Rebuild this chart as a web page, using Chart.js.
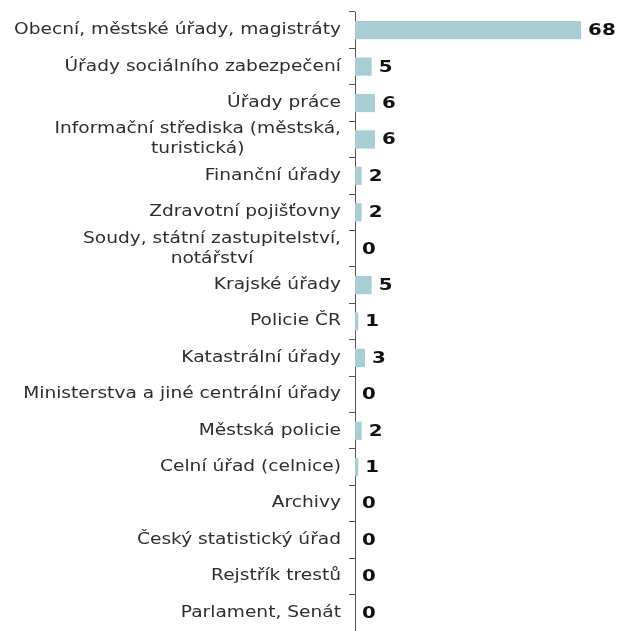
<!DOCTYPE html>
<html>
<head>
<meta charset="utf-8">
<script src="https://cdn.jsdelivr.net/npm/chart.js@4/dist/chart.umd.min.js"></script>
<style>
  html,body{margin:0;padding:0;background:#fff;}
  #wrap{width:621px;height:631px;}
</style>
</head>
<body>
<div id="wrap"><canvas id="chart" width="621" height="631"></canvas></div>
<script>
// categories (multi-line ones as arrays)
var categories = [
  'Obecní, městské úřady, magistráty',
  'Úřady sociálního zabezpečení',
  'Úřady práce',
  ['Informační střediska (městská,', 'turistická)'],
  'Finanční úřady',
  'Zdravotní pojišťovny',
  ['Soudy, státní zastupitelství,', 'notářství'],
  'Krajské úřady',
  'Policie ČR',
  'Katastrální úřady',
  'Ministerstva a jiné centrální úřady',
  'Městská policie',
  'Celní úřad (celnice)',
  'Archivy',
  'Český statistický úřad',
  'Rejstřík trestů',
  'Parlament, Senát'
];
var values = [68, 5, 6, 6, 2, 2, 0, 5, 1, 3, 0, 2, 1, 0, 0, 0, 0];

var labelFont = '15px "DejaVu Sans", Verdana, sans-serif';
var valueFont = 'bold 15px "DejaVu Sans", Verdana, sans-serif';
var labelStretch = 1.24, valueStretch = 1.32; //the original text is wide

//draw text stretched horizontally, align = 'left' | 'right' | 'center'
function wideText(ctx, txt, x, y, sx, align){
  var w = ctx.measureText(txt).width * sx;
  var x0 = align == 'right' ? x - w : (align == 'center' ? x - w/2 : x);
  ctx.save();
  ctx.translate(x0, y);
  ctx.scale(sx, 1);
  ctx.textAlign = 'left';
  ctx.fillText(txt, 0, 0);
  ctx.restore();
}

//draws the category labels (right aligned block, lines centred) and the values
var labelsPlugin = {
  id: 'labelsPlugin',
  afterDraw: (chart)=>{
    var ctx = chart.ctx, y = chart.scales.y, x = chart.scales.x;
    ctx.save();
    ctx.font = labelFont;
    ctx.fillStyle = '#2e2e2e';
    ctx.textBaseline = 'middle';
    var right = y.right - 14, lh = 20;
    categories.forEach((lab,i)=>{
      var lines = Array.isArray(lab) ? lab : [lab];
      var widest = 0;
      lines.forEach(l=>{ widest = Math.max(widest, ctx.measureText(l).width * labelStretch); });
      var cy = y.getPixelForValue(i) - (lines.length-1)*lh/2;
      lines.forEach((l,k)=>{
        wideText(ctx, l, right - widest/2, cy + k*lh, labelStretch, 'center');
      });
    });
    ctx.font = valueFont;
    ctx.fillStyle = '#111';
    var meta = chart.getDatasetMeta(0);
    meta.data.forEach((bar,i)=>{
      wideText(ctx, String(values[i]), x.getPixelForValue(values[i]) + 7, bar.y + 1, valueStretch, 'left');
    });
    ctx.restore();
  }
};

new Chart(document.getElementById('chart'), {
  type: 'bar',
  data: {
    labels: categories,
    datasets: [{
      data: values,
      backgroundColor: '#a8cdd5',
      borderWidth: 0,
      categoryPercentage: 1,
      barPercentage: 0.5
    }]
  },
  options: {
    indexAxis: 'y',
    responsive: false,
    animation: false,
    layout: { padding: { top: 12, right: 0, bottom: 0, left: 0 } },
    plugins: { legend: { display: false }, tooltip: { enabled: false } },
    scales: {
      x: {
        display: false,
        min: 0,
        max: 80
      },
      y: {
        afterFit: (scale)=>{ scale.width = 355; },
        ticks: { display: false },
        grid: {
          offset: true,
          drawOnChartArea: false,
          drawTicks: true,
          tickLength: 6,
          color: '#555'
        },
        border: { display: true, color: '#555', width: 1 }
      }
    }
  },
  plugins: [labelsPlugin]
});
</script>
</body>
</html>
